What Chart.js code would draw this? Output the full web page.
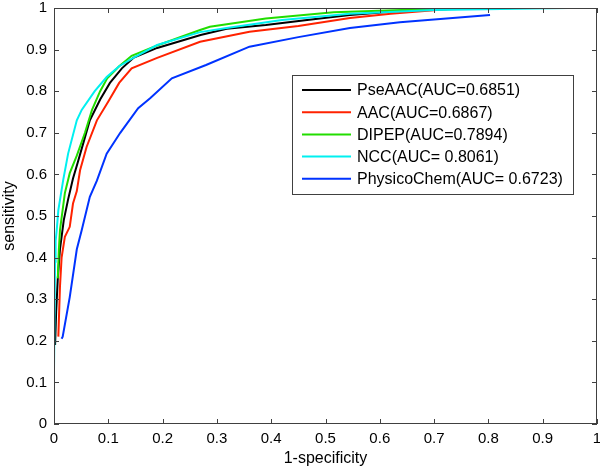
<!DOCTYPE html>
<html>
<head>
<meta charset="utf-8">
<script src="https://cdn.jsdelivr.net/npm/chart.js@4.4.0/dist/chart.umd.min.js"></script>
<style>
  html, body { margin: 0; padding: 0; background: #fff; }
  #wrap { width: 600px; height: 468px; position: relative; }
</style>
</head>
<body>
<div id="wrap"><canvas id="roc"></canvas></div>
<script>
// series labels (legend order)
const seriesLabels = ['PseAAC(AUC=0.6851)', 'AAC(AUC=0.6867)', 'DIPEP(AUC=0.7894)', 'NCC(AUC= 0.8061)', 'PhysicoChem(AUC= 0.6723)']
const seriesColors = ['#000000', '#ff2200', '#22dd00', '#00f0f0', '#0033ff']

// 1-specificity / sensitivity
const pseAacFpr = [0.002, 0.004, 0.007, 0.011, 0.018, 0.026, 0.035, 0.044, 0.055, 0.066, 0.085, 0.103, 0.125, 0.146, 0.19, 0.27, 0.318, 0.39, 0.47, 0.545, 0.637, 0.73]
const pseAacTpr = [0.19, 0.27, 0.35, 0.42, 0.49, 0.54, 0.59, 0.63, 0.68, 0.73, 0.78, 0.82, 0.855, 0.88, 0.904, 0.935, 0.95, 0.959, 0.972, 0.983, 0.993, 1.0]

const aacFpr = [0.008, 0.011, 0.014, 0.02, 0.029, 0.035, 0.042, 0.048, 0.06, 0.079, 0.1, 0.12, 0.143, 0.19, 0.269, 0.36, 0.45, 0.545, 0.62, 0.75]
const aacTpr = [0.21, 0.33, 0.40, 0.45, 0.474, 0.53, 0.56, 0.61, 0.666, 0.73, 0.775, 0.82, 0.855, 0.88, 0.919, 0.943, 0.957, 0.976, 0.986, 1.0]

const dipepFpr = [0.007, 0.009, 0.011, 0.02, 0.029, 0.042, 0.057, 0.07, 0.085, 0.098, 0.12, 0.143, 0.19, 0.269, 0.287, 0.39, 0.515, 0.64, 0.85]
const dipepTpr = [0.35, 0.42, 0.466, 0.555, 0.603, 0.645, 0.70, 0.755, 0.80, 0.831, 0.86, 0.885, 0.91, 0.947, 0.955, 0.975, 0.99, 0.995, 1.0]

const nccFpr = [0, 0.002, 0.003, 0.005, 0.008, 0.017, 0.026, 0.042, 0.051, 0.075, 0.097, 0.12, 0.146, 0.19, 0.269, 0.318, 0.42, 0.545, 0.7, 0.947]
const nccTpr = [0.13, 0.39, 0.44, 0.466, 0.514, 0.587, 0.65, 0.73, 0.755, 0.80, 0.834, 0.86, 0.88, 0.911, 0.942, 0.952, 0.971, 0.986, 0.995, 1.0]

const physicoFpr = [0.014, 0.016, 0.029, 0.042, 0.051, 0.066, 0.079, 0.097, 0.122, 0.155, 0.177, 0.217, 0.28, 0.36, 0.45, 0.545, 0.637, 0.803]
const physicoTpr = [0.205, 0.21, 0.305, 0.42, 0.466, 0.546, 0.585, 0.65, 0.70, 0.759, 0.783, 0.831, 0.863, 0.907, 0.93, 0.952, 0.966, 0.983]

const tickValues = [0, 0.1, 0.2, 0.3, 0.4, 0.5, 0.6, 0.7, 0.8, 0.9, 1]

const allFpr = [pseAacFpr, aacFpr, dipepFpr, nccFpr, physicoFpr]
const allTpr = [pseAacTpr, aacTpr, dipepTpr, nccTpr, physicoTpr]

const FONT = '"Liberation Sans", Arial, sans-serif'
const AXIS_COLOR = '#404040'

const toPoints = (xs, ys) => xs.map((x, i) => ({x: x, y: ys[i]}))

const datasets = seriesLabels.map((label, i) => ({
  label: label,
  data: toPoints(allFpr[i], allTpr[i]),
  borderColor: seriesColors[i],
  backgroundColor: seriesColors[i],
  borderWidth: 2,
  showLine: true,
  pointRadius: 0,
  tension: 0,
  order: seriesLabels.length - 1 - i  // later series on top, as in matlab
}))

// matlab style box: inward ticks on all four sides
const boxPlugin = {
  id: 'box',
  afterDatasetsDraw(chart) {
    const {ctx, chartArea: a, scales} = chart
    ctx.save()
    ctx.strokeStyle = AXIS_COLOR
    ctx.lineWidth = 1
    ctx.strokeRect(a.left + 0.5, a.top + 0.5, a.right - a.left - 1, a.bottom - a.top - 1)
    const len = 5
    ctx.beginPath()
    tickValues.forEach(v => {
      const px = Math.round(scales.x.getPixelForValue(v)) + 0.5
      ctx.moveTo(px, a.bottom); ctx.lineTo(px, a.bottom - len)
      ctx.moveTo(px, a.top); ctx.lineTo(px, a.top + len)
      const py = Math.round(scales.y.getPixelForValue(v)) + 0.5
      ctx.moveTo(a.left, py); ctx.lineTo(a.left + len, py)
      ctx.moveTo(a.right, py); ctx.lineTo(a.right - len, py)
    })
    ctx.stroke()
    ctx.restore()
  },
  afterDraw(chart) {
    // legend box inside the axes
    const {ctx} = chart
    const box = {left: 292, top: 75, right: 573, bottom: 194}
    ctx.save()
    ctx.fillStyle = '#fff'
    ctx.fillRect(box.left, box.top, box.right - box.left, box.bottom - box.top)
    ctx.strokeStyle = AXIS_COLOR
    ctx.lineWidth = 1
    ctx.strokeRect(box.left + 0.5, box.top + 0.5, box.right - box.left, box.bottom - box.top)
    ctx.font = '16px ' + FONT
    ctx.textBaseline = 'middle'
    ctx.textAlign = 'left'
    seriesLabels.forEach((label, i) => {
      const y = 90 + i * 22.2
      ctx.strokeStyle = seriesColors[i]
      ctx.lineWidth = 2
      ctx.beginPath()
      ctx.moveTo(302, y); ctx.lineTo(351, y)
      ctx.stroke()
      ctx.fillStyle = '#000'
      ctx.fillText(label, 357, y + 1)
    })
    ctx.restore()
  }
}

const axisTicks = {
  color: '#000',
  font: {family: FONT, size: 15},
  autoSkip: false,
  callback: v => String(+v.toFixed(1))
}

new Chart(document.getElementById('roc'), {
  type: 'scatter',
  data: {datasets: datasets},
  options: {
    responsive: true,
    maintainAspectRatio: false,
    animation: false,
    layout: {padding: {top: 8, right: 3, left: 0, bottom: 0}},
    plugins: {
      legend: {display: false},
      tooltip: {enabled: false}
    },
    scales: {
      x: {
        type: 'linear',
        min: 0,
        max: 1,
        afterBuildTicks: s => { s.ticks = tickValues.map(v => ({value: v})) },
        afterFit: s => { s.height = 44; s.paddingLeft = 0; s.paddingRight = 0 },
        grid: {display: false, drawTicks: false},
        border: {display: false},
        ticks: {...axisTicks, padding: 6, maxRotation: 0},
        title: {display: true, text: '1-specificity', color: '#000', font: {family: FONT, size: 16}, padding: {top: 0, bottom: 0}}
      },
      y: {
        type: 'linear',
        min: 0,
        max: 1,
        afterBuildTicks: s => { s.ticks = tickValues.map(v => ({value: v})) },
        afterFit: s => { s.width = 54; s.paddingTop = 0; s.paddingBottom = 0 },
        grid: {display: false, drawTicks: false},
        border: {display: false},
        ticks: {...axisTicks, padding: 7},
        title: {display: true, text: 'sensitivity', color: '#000', font: {family: FONT, size: 16}, padding: {top: 0, bottom: 2}}
      }
    }
  },
  plugins: [boxPlugin]
})
</script>
</body>
</html>
